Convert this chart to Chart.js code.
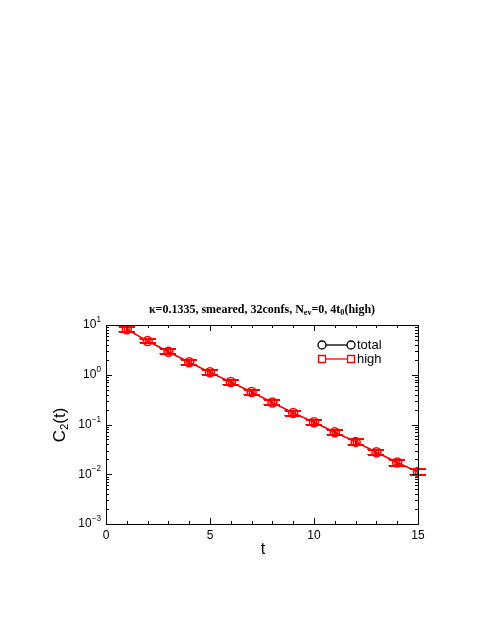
<!DOCTYPE html>
<html>
<head>
<meta charset="utf-8">
<script src="https://cdn.jsdelivr.net/npm/chart.js@4/dist/chart.umd.min.js"></script>
<style>
  html, body { margin: 0; padding: 0; background: #fff; }
</style>
</head>
<body>
<canvas id="c2Chart" width="491" height="635"></canvas>
<script>
// data
const tValues = [1, 2, 3, 4, 5, 6, 7, 8, 9, 10, 11, 12, 13, 14, 15];
const totalC2 = [8.2, 4.76, 2.9, 1.78, 1.12, 0.713, 0.449, 0.277, 0.171, 0.111, 0.070, 0.0447, 0.0277, 0.0172, 0.0111];
const totalErr = [0.9, 0.5, 0.32, 0.2, 0.13, 0.08, 0.05, 0.032, 0.02, 0.013, 0.0085, 0.0055, 0.0035, 0.0023, 0.0015];
const highC2 = [8.2, 4.76, 2.9, 1.78, 1.12, 0.713, 0.449, 0.277, 0.171, 0.111, 0.070, 0.0447, 0.0277, 0.0172, 0.0111];
const highErr = [0.9, 0.5, 0.32, 0.2, 0.13, 0.08, 0.05, 0.032, 0.02, 0.013, 0.0085, 0.0055, 0.0035, 0.0023, 0.0015];
const xTicks = [0, 5, 10, 15];
const yTicks = [0.001, 0.01, 0.1, 1, 10];
const yTickExp = ['-3', '-2', '-1', '0', '1'];
const titleParts = [
    { t: '\u03ba=0.1335, smeared, 32confs, N' },
    { t: 'ev', sub: true },
    { t: '=0, 4t' },
    { t: '0', sub: true },
    { t: '(high)' }
];

const RED = '#ff0000';
const SANS = '"Liberation Sans", Arial, sans-serif';
const SERIF = '"Liberation Serif", "Times New Roman", serif';

// text with subscripts / superscripts, returns width
function richWidth(ctx, parts, size, weight, family) {
    let w = 0;
    parts.forEach(p => {
        const s = (p.sub || p.sup) ? size * 0.68 : size;
        ctx.font = `${weight || ''} ${s}px ${family || SANS}`;
        w += ctx.measureText(p.t).width;
    });
    return w;
}
function richText(ctx, parts, x, y, size, weight, family) {
    let cx = x;
    parts.forEach(p => {
        const s = (p.sub || p.sup) ? size * 0.68 : size;
        ctx.font = `${weight || ''} ${s}px ${family}`;
        let dy = 0;
        if (p.sub) dy = size * 0.28;
        if (p.sup) dy = -size * 0.42;
        ctx.fillText(p.t, cx, y + dy);
        cx += ctx.measureText(p.t).width;
    });
}

const decor = {
    id: 'decor',
    beforeDatasetsDraw(chart) {
        // error bars (total underneath, high on top), snapped to pixels
        const { ctx, scales: { x, y } } = chart;
        const sets = [[totalC2, totalErr, '#000', 1, -0.5], [highC2, highErr, RED, 2, 0]];
        ctx.save();
        sets.forEach(([vals, errs, col, lw, off]) => {
            ctx.strokeStyle = col;
            ctx.lineWidth = lw;
            vals.forEach((v, i) => {
                const px = Math.round(x.getPixelForValue(tValues[i])) + off;
                const top = Math.round(y.getPixelForValue(v + errs[i])) + off;
                const bot = Math.round(y.getPixelForValue(v - errs[i])) + off;
                ctx.beginPath();
                ctx.moveTo(px, top); ctx.lineTo(px, bot);
                ctx.moveTo(px - 8, top); ctx.lineTo(px + 8, top);
                ctx.moveTo(px - 8, bot); ctx.lineTo(px + 8, bot);
                ctx.stroke();
            });
        });
        ctx.restore();
    },
    afterDraw(chart) {
        const { ctx, chartArea: a, scales: { x, y } } = chart;
        ctx.save();
        ctx.strokeStyle = '#000';
        ctx.lineWidth = 1;
        ctx.strokeRect(a.left + 0.5, a.top + 0.5, a.right - a.left, a.bottom - a.top);

        // ticks inside, mirrored
        ctx.beginPath();
        for (let t = 0; t <= 15; t++) {
            const px = Math.round(x.getPixelForValue(t)) + 0.5;
            const len = t % 5 === 0 ? 6 : 3;
            ctx.moveTo(px, a.bottom); ctx.lineTo(px, a.bottom - len);
            ctx.moveTo(px, a.top); ctx.lineTo(px, a.top + len);
        }
        yTicks.forEach((d, k) => {
            for (let m = 1; m <= 9; m++) {
                const v = d * m;
                if (v > 10 || (k === yTicks.length - 1 && m > 1)) continue;
                const py = Math.round(y.getPixelForValue(v)) + 0.5;
                const len = m === 1 ? 6 : 3;
                ctx.moveTo(a.left, py); ctx.lineTo(a.left + len, py);
                ctx.moveTo(a.right, py); ctx.lineTo(a.right - len, py);
            }
        });
        ctx.stroke();

        ctx.fillStyle = '#000';
        // x tick labels
        ctx.font = `12px ${SANS}`;
        ctx.textAlign = 'center';
        ctx.textBaseline = 'middle';
        xTicks.forEach(t => ctx.fillText(String(t), x.getPixelForValue(t), 536));

        // y tick labels 10^n
        ctx.textAlign = 'left';
        yTicks.forEach((v, i) => {
            const parts = [{ t: '10' }, { t: yTickExp[i].replace('-', '\u2212'), sup: true }];
            const w = richWidth(ctx, parts, 12, '', SANS);
            richText(ctx, parts, 101 - w, y.getPixelForValue(v), 12, '', SANS);
        });

        // axis titles
        ctx.font = `16px ${SANS}`;
        ctx.textAlign = 'center';
        ctx.fillText('t', 263, 550);
        ctx.save();
        ctx.translate(60, 425);
        ctx.rotate(-Math.PI / 2);
        ctx.textAlign = 'left';
        const yl = [{ t: 'C' }, { t: '2', sub: true }, { t: '(t)' }];
        richText(ctx, yl, -richWidth(ctx, yl, 17, '', SANS) / 2, 0, 17, '', SANS);
        ctx.restore();

        // title
        ctx.textAlign = 'left';
        const tw = richWidth(ctx, titleParts, 12, 'bold', SERIF);
        richText(ctx, titleParts, 262 - tw / 2, 310, 12, 'bold', SERIF);

        // legend
        const rows = [
            { label: 'total', col: '#000', y: 345, shape: 'circle' },
            { label: 'high', col: RED, y: 359, shape: 'rect' }
        ];
        rows.forEach(r => {
            ctx.strokeStyle = r.col;
            ctx.lineWidth = 1.3;
            ctx.beginPath();
            ctx.moveTo(322, r.y); ctx.lineTo(351, r.y);
            ctx.stroke();
            [322, 351].forEach(px => {
                ctx.beginPath();
                if (r.shape === 'circle') ctx.arc(px, r.y, 4, 0, Math.PI * 2);
                else ctx.rect(px - 3.5, r.y - 3.5, 7, 7);
                ctx.fillStyle = '#fff';
                ctx.fill();
                ctx.stroke();
            });
            ctx.fillStyle = '#000';
            ctx.font = `13px ${SANS}`;
            ctx.textBaseline = 'middle';
            ctx.fillText(r.label, 357, r.y);
        });
        ctx.restore();
    }
};

new Chart(document.getElementById('c2Chart'), {
    type: 'line',
    data: {
        labels: tValues,
        datasets: [
            {
                label: 'total',
                order: 2,
                data: tValues.map((t, i) => ({ x: t, y: totalC2[i] })),
                borderColor: '#000',
                borderWidth: 0.8,
                pointStyle: 'circle',
                pointRadius: 4.5,
                pointBorderColor: RED,
                pointBackgroundColor: 'rgba(0,0,0,0)',
                pointBorderWidth: 1.5,
                tension: 0
            },
            {
                label: 'high',
                order: 1,
                data: tValues.map((t, i) => ({ x: t, y: highC2[i] })),
                borderColor: RED,
                borderWidth: 1.5,
                pointStyle: 'rect',
                pointRadius: 3.2,
                pointBorderColor: RED,
                pointBackgroundColor: 'rgba(0,0,0,0)',
                pointBorderWidth: 1.4,
                tension: 0
            }
        ]
    },
    options: {
        responsive: false,
        animation: false,
        layout: { padding: { left: 106, right: 73, top: 325, bottom: 111 } },
        plugins: { legend: { display: false }, tooltip: { enabled: false }, title: { display: false } },
        scales: {
            x: {
                type: 'linear', min: 0, max: 15,
                ticks: { display: false },
                grid: { display: false, drawTicks: false },
                border: { display: false }
            },
            y: {
                type: 'logarithmic', min: 0.001, max: 10,
                ticks: { display: false },
                grid: { display: false, drawTicks: false },
                border: { display: false }
            }
        }
    },
    plugins: [decor]
});
</script>
</body>
</html>
